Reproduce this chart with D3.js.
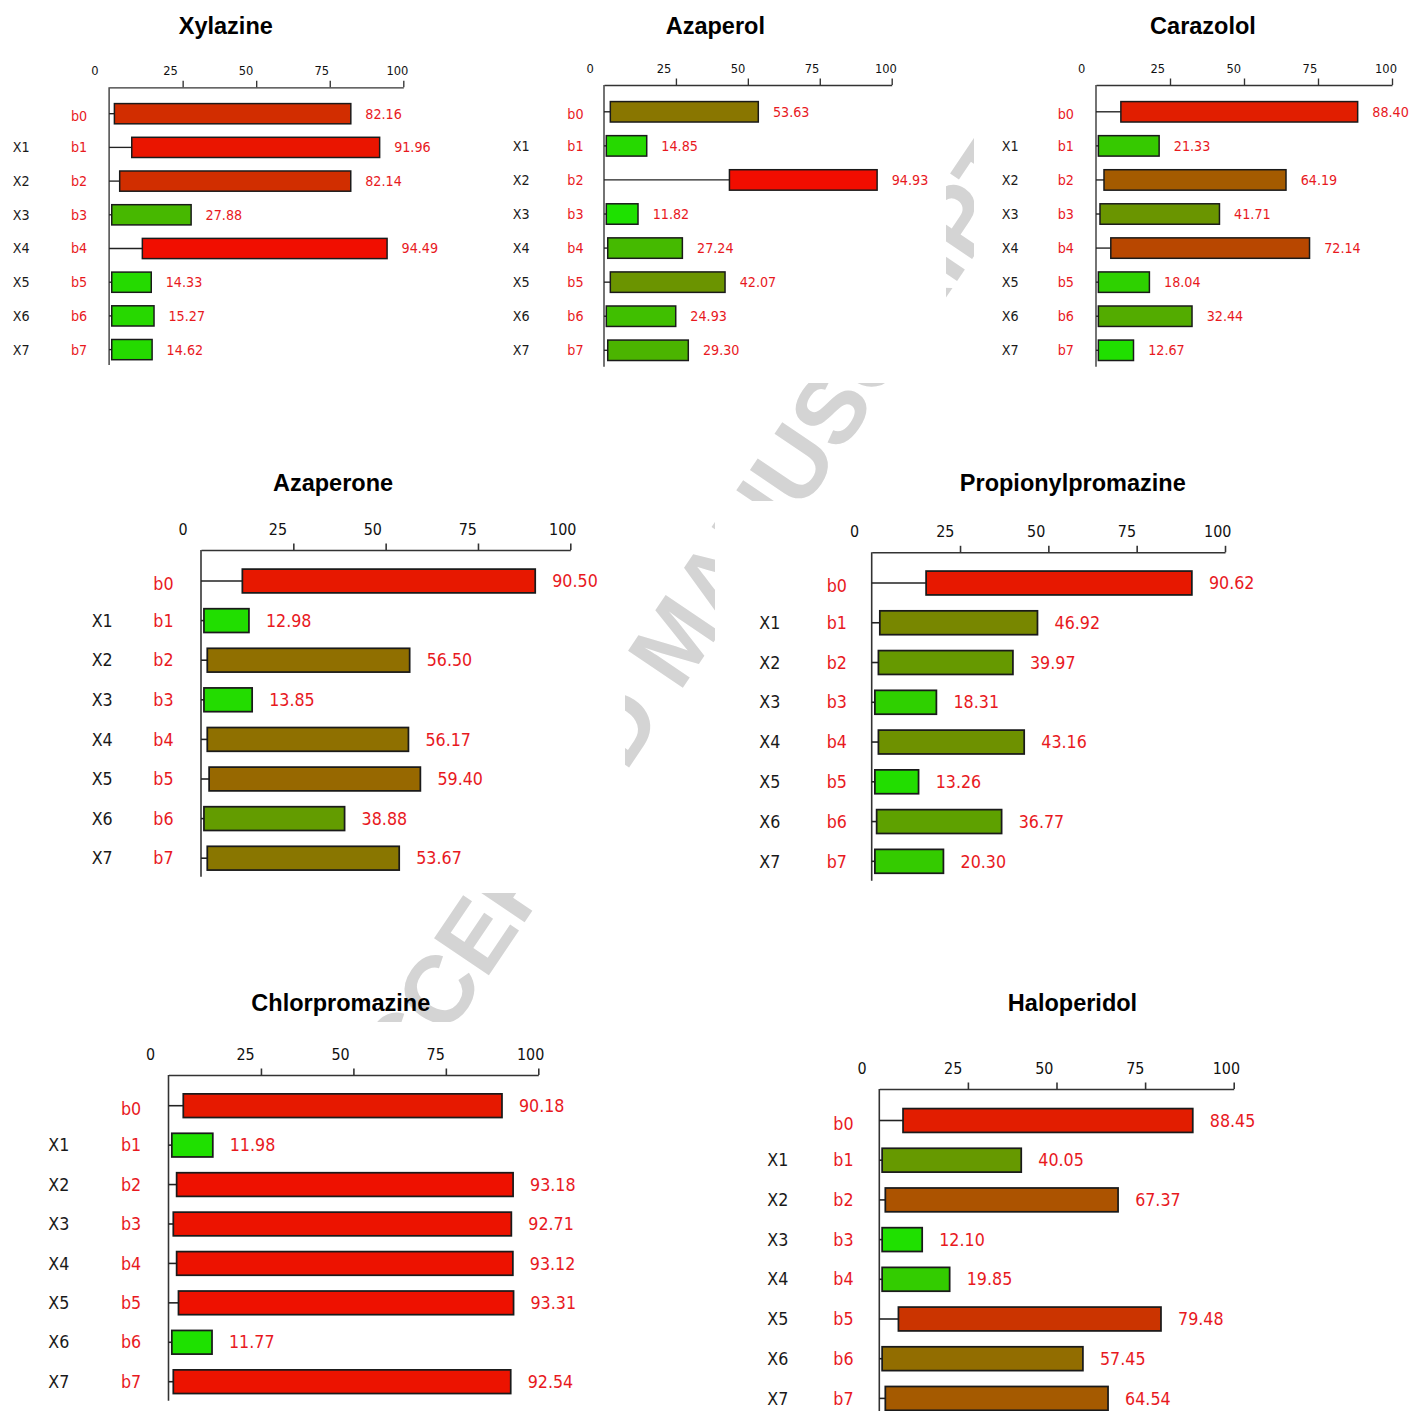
<!DOCTYPE html>
<html lang="en">
<head>
<meta charset="utf-8">
<title>Compound bars</title>
<script src="https://d3js.org/d3.v7.min.js"></script>
<style>
  body { margin: 0; background: #fff; }
  svg text { font-family: "DejaVu Sans Condensed", "DejaVu Sans", sans-serif; }
  svg text.title { font-family: "Liberation Sans", Arial, sans-serif; font-weight: bold; }
  svg text.mark { font-family: "Liberation Sans", Arial, sans-serif; font-weight: bold; }
</style>
</head>
<body>
<div id="chart"></div>
<script>

// panel titles
var compounds = ["Xylazine", "Azaperol", "Carazolol", "Azaperone",
                 "Propionylpromazine", "Chlorpromazine", "Haloperidol"];

// row labels
var rowNames = ["b0", "b1", "b2", "b3", "b4", "b5", "b6", "b7"];
var xNames = ["", "X1", "X2", "X3", "X4", "X5", "X6", "X7"];
var tickValues = [0, 25, 50, 75, 100];

// value printed at the end of each bar (= bar end)
var xylazine = [82.16, 91.96, 82.14, 27.88, 94.49, 14.33, 15.27, 14.62];
var azaperol = [53.63, 14.85, 94.93, 11.82, 27.24, 42.07, 24.93, 29.30];
var carazolol = [88.40, 21.33, 64.19, 41.71, 72.14, 18.04, 32.44, 12.67];
var azaperone = [90.50, 12.98, 56.50, 13.85, 56.17, 59.40, 38.88, 53.67];
var propionylpromazine = [90.62, 46.92, 39.97, 18.31, 43.16, 13.26, 36.77, 20.30];
var chlorpromazine = [90.18, 11.98, 93.18, 92.71, 93.12, 93.31, 11.77, 92.54];
var haloperidol = [88.45, 40.05, 67.37, 12.10, 19.85, 79.48, 57.45, 64.54];

// where each bar starts
var xylazineStart = [1.8, 7.7, 3.6, 0.9, 11.3, 0.9, 0.9, 0.9];
var azaperolStart = [2.2, 0.8, 43.6, 0.8, 1.3, 2.2, 0.8, 1.3];
var carazololStart = [8.4, 0.8, 2.7, 1.35, 5.0, 0.8, 0.8, 0.8];
var azaperoneStart = [11.2, 0.8, 1.7, 0.8, 1.7, 2.2, 0.8, 1.7];
var propionylpromazineStart = [15.4, 2.3, 1.9, 0.9, 1.9, 0.9, 1.4, 0.9];
var chlorpromazineStart = [4.0, 0.9, 2.2, 1.3, 2.2, 2.7, 0.9, 1.3];
var haloperidolStart = [6.7, 0.8, 1.7, 0.8, 0.8, 5.4, 0.8, 1.7];

var ends = [xylazine, azaperol, carazolol, azaperone, propionylpromazine, chlorpromazine, haloperidol];
var starts = [xylazineStart, azaperolStart, carazololStart, azaperoneStart,
              propionylpromazineStart, chlorpromazineStart, haloperidolStart];

// panel placement on the page
var layout = [
    {x0: 109.1, x1: 403.3,  ay: 87.3,  r0: 113.7,  step: 33.7,  bottom: 365,   xl: 12.7,  bl: 71,    tx: 225.8,  ty: 34.3,   fs: 14.2},
    {x0: 604,   x1: 891.7,  ay: 85,    r0: 111.8,  step: 34.07, bottom: 366.7, xl: 512.7, bl: 567.3, tx: 715.3,  ty: 34.3,   fs: 14.2},
    {x0: 1096,  x1: 1392,   ay: 85,    r0: 111.8,  step: 34.07, bottom: 366.7, xl: 1001.7,bl: 1057.7,tx: 1203,   ty: 34.3,   fs: 14.2},
    {x0: 201,   x1: 570.3,  ay: 550,   r0: 581,    step: 39.6,  bottom: 876.7, xl: 91.7,  bl: 153.3, tx: 333,    ty: 490.7,  fs: 17.7},
    {x0: 871.7, x1: 1225,   ay: 552.3, r0: 583,    step: 39.76, bottom: 880.7, xl: 759.3, bl: 826.7, tx: 1072.8, ty: 490.7,  fs: 17.7},
    {x0: 168.5, x1: 538.3,  ay: 1075,  r0: 1105.7, step: 39.43, bottom: 1400.7,xl: 48.3,  bl: 121,   tx: 340.8,  ty: 1010.7, fs: 17.7},
    {x0: 879.3, x1: 1233.7, ay: 1089,  r0: 1120.5, step: 39.7,  bottom: 1440,  xl: 767.3, bl: 833.3, tx: 1072.5, ty: 1010.7, fs: 17.7}
];

// white areas of the pasted panels (hide the watermark)
var panes = [
    [0, 0, 480, 383], [485, 0, 461, 383], [974, 0, 436, 383],
    [40, 500, 585, 393], [715, 501, 695, 389],
    [0, 1022, 660, 389], [700, 1022, 710, 389]
];

var W = 1410, H = 1411;
var red = "#e8191e";

var color = d3.scaleLinear().domain([0, 100]).range(["#00ff00", "#ff0000"]).clamp(true);

var svg = d3.select('#chart').append('svg')
    .attr('width', W)
    .attr('height', H);

// watermark
svg.append('text')
    .attr('class', 'mark')
    .attr('transform', 'translate(369,1153) rotate(-56)')
    .attr('font-size', 96)
    .attr('fill', '#d4d4d4')
    .text('ACCEPTED MANUSCRIPT');

svg.selectAll('rect.pane')
    .data(panes)
    .enter()
    .append('rect')
    .attr('class', 'pane')
    .attr('x', function (d) { return d[0]; })
    .attr('y', function (d) { return d[1]; })
    .attr('width', function (d) { return d[2]; })
    .attr('height', function (d) { return d[3]; })
    .attr('fill', '#fff');

layout.forEach(function (L, i) {
    var g = svg.append('g');
    var w = L.x1 - L.x0;
    var lw = 0.04 * L.step;
    var tfs = 0.9 * L.fs;

    var x = d3.scaleLinear().domain([0, 100]).range([L.x0, L.x1]);
    // tick labels sit slightly left of their ticks
    var xLab = d3.scaleLinear().domain([0, 100]).range([L.x0 - 0.05 * w, L.x1 - 0.022 * w]);
    var y = d3.scalePoint().domain(rowNames).range([L.r0, L.r0 + 7 * L.step]);
    var bh = 0.6 * L.step;

    var rows = rowNames.map(function (r, j) {
        return {name: r, xname: xNames[j], start: starts[i][j], end: ends[i][j]};
    });

    // title
    g.append('text')
        .attr('class', 'title')
        .attr('x', L.tx)
        .attr('y', L.ty)
        .attr('text-anchor', 'middle')
        .attr('font-size', 23.5)
        .attr('fill', '#000')
        .text(compounds[i]);

    // top axis
    var axis = d3.axisTop(x)
        .tickValues(tickValues)
        .tickSize(6.5)
        .tickSizeOuter(0)
        .tickFormat(d3.format('d'));
    var ga = g.append('g')
        .attr('transform', 'translate(0,' + L.ay + ')')
        .call(axis);
    ga.select('.domain').attr('stroke', '#333').attr('stroke-width', lw);
    ga.selectAll('.tick line').attr('stroke', '#333').attr('stroke-width', lw);
    ga.selectAll('.tick').filter(function (d) { return d === 0; }).select('line').remove();
    ga.selectAll('.tick text')
        .attr('x', function (d) { return xLab(d) - x(d); })
        .attr('y', -1.3 * tfs)
        .attr('dy', '0.35em')
        .attr('fill', '#111')
        .style('font-size', tfs + 'px');

    // vertical axis
    g.append('line')
        .attr('x1', L.x0).attr('x2', L.x0)
        .attr('y1', L.ay).attr('y2', L.bottom)
        .attr('stroke', '#333')
        .attr('stroke-width', lw);

    // stems from the axis to the start of the bar
    g.selectAll('line.stem')
        .data(rows)
        .enter()
        .append('line')
        .attr('class', 'stem')
        .attr('x1', x(0))
        .attr('x2', function (d) { return x(d.start); })
        .attr('y1', function (d) { return y(d.name); })
        .attr('y2', function (d) { return y(d.name); })
        .attr('stroke', '#222')
        .attr('stroke-width', lw);

    // bars
    g.selectAll('rect.bar')
        .data(rows)
        .enter()
        .append('rect')
        .attr('class', 'bar')
        .attr('x', function (d) { return x(d.start); })
        .attr('y', function (d) { return y(d.name) - bh / 2; })
        .attr('width', function (d) { return x(d.end) - x(d.start); })
        .attr('height', bh)
        .attr('fill', function (d) { return color(d.end); })
        .attr('stroke', '#1a1a1a')
        .attr('stroke-width', lw * 1.1);

    // value labels
    g.selectAll('text.val')
        .data(rows)
        .enter()
        .append('text')
        .attr('class', 'val')
        .attr('x', function (d) { return x(d.end) + 0.43 * L.step; })
        .attr('y', function (d) { return y(d.name); })
        .attr('dy', '0.35em')
        .attr('fill', red)
        .style('font-size', L.fs + 'px')
        .text(function (d) { return d3.format('.2f')(d.end); });

    // b labels
    g.selectAll('text.bl')
        .data(rows)
        .enter()
        .append('text')
        .attr('class', 'bl')
        .attr('x', L.bl)
        .attr('y', function (d, j) { return y(d.name) + (j === 0 ? 0.08 * L.step : 0); })
        .attr('dy', '0.35em')
        .attr('fill', red)
        .style('font-size', L.fs + 'px')
        .text(function (d) { return d.name; });

    // X labels
    g.selectAll('text.xl')
        .data(rows.filter(function (d) { return d.xname !== ''; }))
        .enter()
        .append('text')
        .attr('class', 'xl')
        .attr('x', L.xl)
        .attr('y', function (d) { return y(d.name); })
        .attr('dy', '0.35em')
        .attr('fill', '#1a1a1a')
        .style('font-size', L.fs + 'px')
        .text(function (d) { return d.xname; });
});

</script>
</body>
</html>
